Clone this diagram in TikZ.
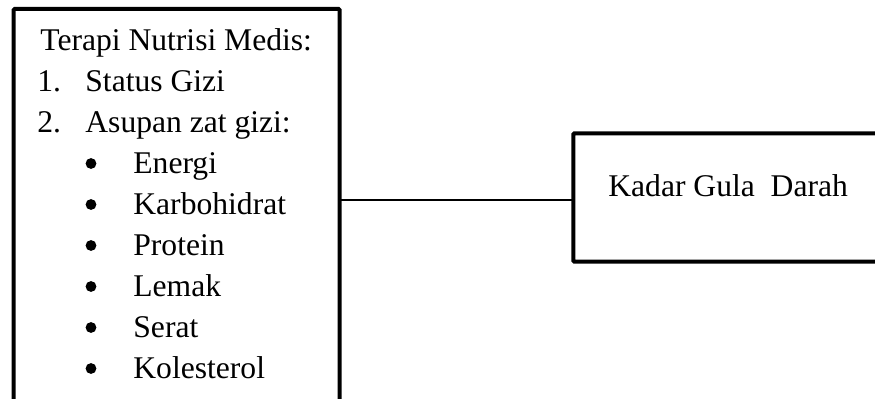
\documentclass[tikz,border=0pt]{standalone}
\usepackage{fontspec}
\setmainfont{Liberation Serif}
\usetikzlibrary{positioning}

\begin{document}
\begin{tikzpicture}[x=0.5pt,y=-0.5pt,
  kotak/.style={draw,line width=2pt,outer sep=0pt,inner sep=0pt,rounded corners=0.5pt},
  teks/.style={anchor=base west,inner sep=0pt,font=\fontsize{15.8}{19}\selectfont},
  poin/.style={circle,fill,inner sep=0pt,minimum size=5.4pt},
  link/.style={line width=0.6pt}]
\useasboundingbox (0,0) rectangle (875,399);

% kotak kiri dan kanan
\node[kotak,anchor=north west,minimum width=162.9pt,minimum height=200pt] (terapi) at (13.7,9) {};
\node[kotak,anchor=north west,minimum width=170pt,minimum height=64.2pt] (kadar) at (573.3,133.3) {};

% isi kotak kiri
\node[teks] (judul) at (40,50.5) {Terapi Nutrisi Medis:};
\node[teks] (no1) at (37,91.5) {1.};
\node[teks] (status) at (85,91.5) {Status Gizi};
\node[teks] (no2) at (37,132.5) {2.};
\node[teks] (asupan) at (85,132.5) {Asupan zat gizi:};
\foreach \zat [count=\i] in {Energi,Karbohidrat,Protein,Lemak,Serat,Kolesterol}{
  \node[poin] (poin\i) at (91,{122.5+41*\i}) {};
  \node[teks] (zat\i) at (133,{132.5+41*\i}) {\zat};
}

% isi kotak kanan
\node[teks] (gula) at (608,197) {Kadar Gula~~Darah};

\draw[link] ([yshift=-1.25pt]kadar.west) -- ([yshift=-1.25pt]kadar.west -| terapi.east);
\end{tikzpicture}
\end{document}
